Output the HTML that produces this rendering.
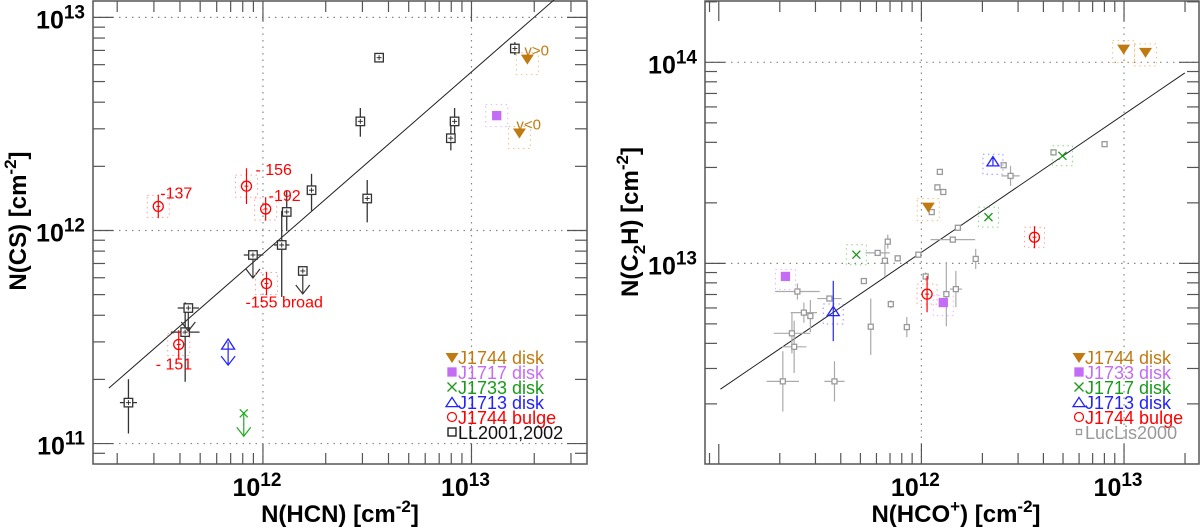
<!DOCTYPE html>
<html><head><meta charset="utf-8"><style>
html,body{margin:0;padding:0;background:#fff;}
svg{display:block;font-family:"Liberation Sans",Arial,sans-serif;}
</style></head><body>
<svg id="fig" width="1200" height="528" viewBox="0 0 1200 528" xmlns="http://www.w3.org/2000/svg"></svg>
<script>
// ---- Left panel data (log10 values) ----
const llX = [11.355,11.627,11.642,11.952,12.09,12.114,12.191,12.233,12.467,12.5,12.557,12.901,12.919,13.208];
const llY = [11.192,11.523,11.636,11.885,11.932,12.087,11.81,12.189,12.512,12.15,12.811,12.433,12.512,12.854];
const llXerr = [0.041,0.069,0.051,0.044,0.037,0,0,0,0,0,0,0,0,0];
const llYup = [0.11,0.14,0,0,0.16,0.098,0,0.077,0.063,0.087,0.02,0.066,0.063,0.03];
const llYdn = [0.145,0.233,0,0,0.244,0.09,0,0.096,0.072,0.112,0.02,0.057,0.06,0.03];
const llUL = [0,0,1,1,0,0,1,0,0,0,0,0,0,0];
const bulgeX = [11.498,11.921,12.013,12.017,11.596];
const bulgeY = [12.113,12.208,12.101,11.751,11.465];
const bulgeYerr = [0.055,0.084,0.055,0.055,0.067];
const bulgeLabels = ["-137","- 156","-192","-155 broad","- 151"];
const diskL1744X = [13.268,13.23];
const diskL1744Y = [12.802,12.455];
const diskL1744Labels = ["v>0","v<0"];
const j1717LX = [13.121];
const j1717LY = [12.539];
const j1713LX = [11.833];
const j1713LY = [11.476];
const j1733LX = [11.908];
const j1733LY = [11.142];
const fitL = [[11.261,11.26],[13.396,13.082]];

// ---- Right panel data (log10 values) ----
const lucX = [11.316,11.571,11.372,11.361,11.42,11.452,11.388,11.546,11.716,11.75,11.784,11.82,11.834,11.849,11.883,11.928,11.985,12.021,12.123,12.17,12.051,12.079,12.108,12.091,12.155,12.18,12.268,12.406,12.44,12.652,12.904];
const lucY = [12.413,12.413,12.585,12.652,12.755,12.738,12.86,12.825,12.912,12.685,13.052,13.013,13.108,12.797,13.025,12.683,13.043,12.935,12.847,12.872,13.255,13.378,13.355,13.455,13.118,13.177,13.022,13.488,13.435,13.552,13.593];
const lucXerr = [0.08,0.05,0.06,0.09,0.065,0,0.11,0.06,0,0,0.06,0,0,0,0,0,0,0,0,0.03,0,0,0,0,0.11,0,0,0,0.045,0,0];
const lucYerr = [0.15,0.1,0.13,0.1,0.05,0.08,0.04,0,0,0.14,0,0.08,0.035,0.02,0,0.05,0,0.02,0.16,0.09,0,0,0,0.01,0,0.01,0.05,0,0.05,0,0];
const r1744X = [12.034,12.998,13.106];
const r1744Y = [13.277,14.063,14.047];
const r1733X = [11.329,12.108];
const r1733Y = [12.935,12.805];
const r1717X = [11.679,12.331,12.696];
const r1717Y = [13.043,13.23,13.535];
const r1713X = [11.565,12.353];
const r1713Y = [12.763,13.508];
const r1713Yerr = [0.15,0.02];
const rBulgeX = [12.028,12.558];
const rBulgeY = [12.847,13.13];
const rBulgeYerr = [0.09,0.055];
const fitR = [[11.008,12.374],[13.300,13.947]];

const NS = "http://www.w3.org/2000/svg";
const svg = document.getElementById('fig');
function mk(tag, attrs, parent){
  const e = document.createElementNS(NS, tag);
  for (const k in attrs) e.setAttribute(k, attrs[k]);
  (parent||svg).appendChild(e);
  return e;
}
function panel(p){
  const g = mk('g',{});
  
  
  p.sx = v => p.x0 + (v - p.xmin)/(p.xmax - p.xmin)*(p.x1 - p.x0);
  p.sy = v => p.y1 - (v - p.ymin)/(p.ymax - p.ymin)*(p.y1 - p.y0);
  p.g = g;
  const xl0 = Math.max(Math.ceil(p.xmin), p.xLabelMin||-99);
  for (let d = xl0; d <= p.xmax; d++){
    const ln = mk('line',{x1:p.sx(d),x2:p.sx(d),y1:p.y0,y2:p.y1,stroke:'#888','stroke-width':1.2,'stroke-dasharray':'1.5,5'},g);
    
    
  }
  for (let d = Math.ceil(p.ymin); d <= p.ymax; d++){
    const ln = mk('line',{x1:p.x0,x2:p.x1,y1:p.sy(d),y2:p.sy(d),stroke:'#888','stroke-width':1.2,'stroke-dasharray':'1.5,5'},g);
    
    
  }
  const tc = '#555';
  for (let d = Math.floor(p.xmin); d <= p.xmax; d++){
    for (let m = 1; m <= 9; m++){
      const v = d + Math.log10(m);
      if (v < p.xmin || v > p.xmax) continue;
      const L = m === 1 ? 20 : 11, x = p.sx(v);
      mk('line',{x1:x,x2:x,y1:p.y1,y2:p.y1-L,stroke:tc,'stroke-width':1.2},g);
      mk('line',{x1:x,x2:x,y1:p.y0,y2:p.y0+L,stroke:tc,'stroke-width':1.2},g);
    }
  }
  for (let d = Math.floor(p.ymin); d <= p.ymax; d++){
    for (let m = 1; m <= 9; m++){
      const v = d + Math.log10(m);
      if (v < p.ymin || v > p.ymax) continue;
      const L = m === 1 ? 20 : 12, y = p.sy(v);
      mk('line',{x1:p.x0,x2:p.x0+L,y1:y,y2:y,stroke:tc,'stroke-width':1.2},g);
      mk('line',{x1:p.x1,x2:p.x1-L,y1:y,y2:y,stroke:tc,'stroke-width':1.2},g);
    }
  }
  const fr = mk('rect',{x:p.x0,y:p.y0,width:p.x1-p.x0,height:p.y1-p.y0,fill:'none',stroke:'#555','stroke-width':1.5},g);
  
  
  for (let d = xl0; d <= p.xmax; d++){
    const t = mk('text',{x:p.sx(d)-6,y:496,'text-anchor':'middle','font-size':25,'font-weight':'bold'},g);
    
    
    t.innerHTML = '10<tspan dy="-10" font-size="19">'+d+'</tspan>';
  }
  for (let d = Math.ceil(p.ymin); d <= p.ymax; d++){
    const t = mk('text',{x:p.x0-8,y:p.sy(d)+11,'text-anchor':'end','font-size':25,'font-weight':'bold'},g);
    
    
    t.innerHTML = '10<tspan dy="-10" font-size="19">'+d+'</tspan>';
  }
  return p;
}
function line(p, pts, col, w, name){
  const l = mk('line',{x1:p.sx(pts[0][0]),y1:p.sy(pts[0][1]),x2:p.sx(pts[1][0]),y2:p.sy(pts[1][1]),stroke:col,'stroke-width':w||1.2},p.g);
  if(name){   }
  return l;
}
function seg(g,x1,y1,x2,y2,col,w,dash){
  const a={x1,y1,x2,y2,stroke:col,'stroke-width':w||1.2};
  if(dash) a['stroke-dasharray']=dash;
  return mk('line',a,g);
}
function dotbox(g,x,y,s,col){
  mk('rect',{x:x-s/2,y:y-s/2,width:s,height:s,fill:'none',stroke:col,'stroke-width':1,'stroke-dasharray':'1.5,3.5','stroke-opacity':0.8},g);
}
function arrowDown(g,x,y,len,col){
  seg(g,x,y,x,y+len,col,1.2);
  mk('polyline',{points:(x-7)+','+(y+len-9)+' '+x+','+(y+len)+' '+(x+7)+','+(y+len-9),fill:'none',stroke:col,'stroke-width':1.2},g);
}
function square(g,x,y,s,col,fill){
  mk('rect',{x:x-s/2,y:y-s/2,width:s,height:s,fill:fill||'none',stroke:col,'stroke-width':1.3},g);
}
function triDown(g,x,y,s,col){
  mk('polygon',{points:(x-s/2)+','+(y-s/2.6)+' '+(x+s/2)+','+(y-s/2.6)+' '+x+','+(y+s/2.6)},g).setAttribute('fill',col);
}
function triUp(g,x,y,s,col){
  mk('polygon',{points:(x-s/2)+','+(y+s/2.6)+' '+(x+s/2)+','+(y+s/2.6)+' '+x+','+(y-s/2.6),fill:'none',stroke:col,'stroke-width':1.3},g);
}
function cross(g,x,y,s,col){
  seg(g,x-s/2,y-s/2,x+s/2,y+s/2,col,1.3);
  seg(g,x-s/2,y+s/2,x+s/2,y-s/2,col,1.3);
}
function circ(g,x,y,r,col){
  mk('circle',{cx:x,cy:y,r:r,fill:'none',stroke:col,'stroke-width':1.3},g);
  seg(g,x-2,y,x+2,y,col,1);
}
function legend(p, items, lx){
  const lg = mk('g',{},p.g);
  
  
  const ys=[362,377,392,407,422,437];
  items.forEach((it,i)=>{
    const e = mk('g',{},lg);
    
    
    const x=lx, y=ys[i]-5;
    if(it.m==='tri') triDown(e,x,y+1,13,it.c);
    if(it.m==='sqf') square(e,x,y,8,it.c,it.c);
    if(it.m==='x') cross(e,x,y,9,it.c);
    if(it.m==='triup') triUp(e,x,y,12,it.c);
    if(it.m==='circ') mk('circle',{cx:x,cy:y,r:4.5,fill:'none',stroke:it.c,'stroke-width':1.2},e);
    if(it.m==='sq') square(e,x,y,8,it.c);
    if(it.m==='sqs') square(e,x,y,5,it.c);
    const t = mk('text',{x:lx+6,y:ys[i]+2,'font-size':18,fill:it.c},e);
    t.textContent = it.t;
  });
}

// ===== LEFT PANEL =====
const PL = panel({name:'left-panel-cs-vs-hcn',xmin:11.185,xmax:13.554,ymin:10.904,ymax:13.077,x0:93,x1:587,y0:1,y1:464});
line(PL, fitL, '#222', 1, 'fit-line');
{
  const g = mk('g',{},PL.g);
  
  
  const c='#333';
  llX.forEach((v,i)=>{
    const x=PL.sx(v), y=PL.sy(llY[i]);
    const pg = mk('g',{},g);
    
    
    if(llXerr[i]>0) seg(pg,PL.sx(v-llXerr[i]),y,PL.sx(v+llXerr[i]),y,c,1.3);
    if(llYup[i]>0||llYdn[i]>0) seg(pg,x,PL.sy(llY[i]+llYup[i]),x,PL.sy(llY[i]-llYdn[i]),c,1.3);
    else seg(pg,x-3,y,x+3,y,c,1);
    if(llUL[i]) arrowDown(pg,x,y,23,c);
    square(pg,x,y,8.5,c,'#fff');
    seg(pg,x-2.5,y,x+2.5,y,c,1); seg(pg,x,y-2.5,x,y+2.5,c,1);
  });
}
{
  const g = mk('g',{},PL.g);
  
  
  const c='#f00';
  const off=[[2,-8,'start'],[9,-11,'start'],[3,-8,'start'],[-21,24,'start'],[-23,25,'start']];
  bulgeX.forEach((v,i)=>{
    const x=PL.sx(v), y=PL.sy(bulgeY[i]);
    const pg = mk('g',{},g);
    
    
    dotbox(pg,x,y,22,'#f88');
    seg(pg,x,PL.sy(bulgeY[i]+bulgeYerr[i]),x,PL.sy(bulgeY[i]-bulgeYerr[i]),c,1.2);
    circ(pg,x,y,5,c);
    const t = mk('text',{x:x+off[i][0],y:y+off[i][1],'font-size':16,fill:c,'text-anchor':off[i][2]},pg);
    t.textContent = bulgeLabels[i];
  });
}
{
  const g = mk('g',{},PL.g);
  
  
  diskL1744X.forEach((v,i)=>{
    const x=PL.sx(v), y=PL.sy(diskL1744Y[i]);
    dotbox(g,x,y+4,22,'#eab060');
    triDown(g,x,y,13,'#c07a10');
    const t = mk('text',{x:x-3,y:y-4,'font-size':15,fill:'#c07a10'},g);
    t.textContent = diskL1744Labels[i];
  });
  const g2 = mk('g',{},PL.g);
  
  
  j1717LX.forEach((v,i)=>{const x=PL.sx(v),y=PL.sy(j1717LY[i]); dotbox(g2,x,y,22,'#d9a3ff'); square(g2,x,y,8,'#c46cf5','#c46cf5');});
  const g3 = mk('g',{},PL.g);
  
  
  j1713LX.forEach((v,i)=>{const x=PL.sx(v),y=PL.sy(j1713LY[i]); arrowDown(g3,x,y,23,'#22f'); triUp(g3,x,y+2,13,'#22f');});
  const g4 = mk('g',{},PL.g);
  
  
  j1733LX.forEach((v,i)=>{const x=PL.sx(v),y=PL.sy(j1733LY[i]); arrowDown(g4,x,y,23,'#2a2'); cross(g4,x,y,8,'#2a2');});
}
legend(PL,[
  {m:'tri',c:'#c07a10',t:'J1744 disk'},
  {m:'sqf',c:'#c46cf5',t:'J1717 disk'},
  {m:'x',c:'#1a9a1a',t:'J1733 disk'},
  {m:'triup',c:'#22f',t:'J1713 disk'},
  {m:'circ',c:'#f00',t:'J1744 bulge'},
  {m:'sq',c:'#111',t:'LL2001,2002'}],452);
{
  const t = mk('text',{x:340,y:522,'text-anchor':'middle','font-size':24,'font-weight':'bold'});
  
  
  t.innerHTML='N(HCN) [cm<tspan dy="-10" font-size="17">-2</tspan><tspan dy="10">]</tspan>';
  const t2 = mk('text',{x:0,y:0,'text-anchor':'middle','font-size':24,'font-weight':'bold',transform:'translate(26,221) rotate(-90)'});
  
  
  t2.innerHTML='N(CS) [cm<tspan dy="-10" font-size="17">-2</tspan><tspan dy="10">]</tspan>';
}

// ===== RIGHT PANEL =====
const PR = panel({name:'right-panel-c2h-vs-hcop',xmin:10.932,xmax:13.37,ymin:12.002,ymax:14.305,x0:705,x1:1199,y0:1,y1:464,xLabelMin:12});
line(PR, fitR, '#222', 1, 'fit-line');
{
  const g = mk('g',{},PR.g);
  
  
  const c='#999';
  lucX.forEach((v,i)=>{
    const x=PR.sx(v), y=PR.sy(lucY[i]);
    const pg = mk('g',{},g);
    
    
    if(lucXerr[i]>0) seg(pg,PR.sx(v-lucXerr[i]),y,PR.sx(v+lucXerr[i]),y,'#aaa',1.2);
    if(lucYerr[i]>0) seg(pg,x,PR.sy(lucY[i]+lucYerr[i]),x,PR.sy(lucY[i]-lucYerr[i]),'#aaa',1.2);
    square(pg,x,y,5,c,'#fff');
  });
}
{
  const g = mk('g',{},PR.g);
  
  
  rBulgeX.forEach((v,i)=>{const x=PR.sx(v),y=PR.sy(rBulgeY[i]);
    dotbox(g,x,y,20,'#f88');
    seg(g,x,PR.sy(rBulgeY[i]+rBulgeYerr[i]),x,PR.sy(rBulgeY[i]-rBulgeYerr[i]),'#f00',1.2);
    circ(g,x,y,5,'#f00');});
  const g1 = mk('g',{},PR.g);
  
  
  r1744X.forEach((v,i)=>{const x=PR.sx(v),y=PR.sy(r1744Y[i]); dotbox(g1,x,y+2,22,'#eab060'); triDown(g1,x,y,13,'#c07a10');});
  const g2 = mk('g',{},PR.g);
  
  
  r1733X.forEach((v,i)=>{const x=PR.sx(v),y=PR.sy(r1733Y[i]); dotbox(g2,x,y+3,20,'#d9a3ff'); square(g2,x,y,8,'#c46cf5','#c46cf5');});
  const g3 = mk('g',{},PR.g);
  
  
  r1717X.forEach((v,i)=>{const x=PR.sx(v),y=PR.sy(r1717Y[i]); dotbox(g3,x,y,20,'#6c6'); cross(g3,x,y,8,'#1a9a1a');});
  const g4 = mk('g',{},PR.g);
  
  
  r1713X.forEach((v,i)=>{const x=PR.sx(v),y=PR.sy(r1713Y[i]); dotbox(g4,x,y+3,20,'#77f');
    seg(g4,x,PR.sy(r1713Y[i]+r1713Yerr[i]),x,PR.sy(r1713Y[i]-r1713Yerr[i]),'#22f',1.2);
    triUp(g4,x,y,12,'#22f');});
}
legend(PR,[
  {m:'tri',c:'#c07a10',t:'J1744 disk'},
  {m:'sqf',c:'#c46cf5',t:'J1733 disk'},
  {m:'x',c:'#1a9a1a',t:'J1717 disk'},
  {m:'triup',c:'#22f',t:'J1713 disk'},
  {m:'circ',c:'#f00',t:'J1744 bulge'},
  {m:'sqs',c:'#999',t:'LucLis2000'}],1079);
{
  const t = mk('text',{x:956,y:522,'text-anchor':'middle','font-size':24,'font-weight':'bold'});
  
  
  t.innerHTML='N(HCO<tspan dy="-10" font-size="17">+</tspan><tspan dy="10">) [cm</tspan><tspan dy="-10" font-size="17">-2</tspan><tspan dy="10">]</tspan>';
  const t2 = mk('text',{x:0,y:0,'text-anchor':'middle','font-size':24,'font-weight':'bold',transform:'translate(638,222) rotate(-90)'});
  
  
  t2.innerHTML='N(C<tspan dy="7" font-size="17">2</tspan><tspan dy="-7">H) [cm</tspan><tspan dy="-10" font-size="17">-2</tspan><tspan dy="10">]</tspan>';
}
</script>
</body></html>
